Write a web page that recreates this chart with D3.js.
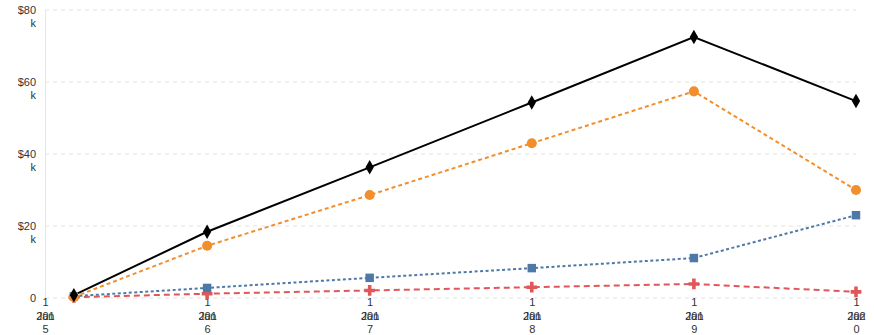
<!DOCTYPE html>
<html>
<head>
<meta charset="utf-8">
<script src="https://cdn.jsdelivr.net/npm/d3@7/dist/d3.min.js"></script>
<style>
  html, body { margin: 0; padding: 0; background: #fff; }
  svg { display: block; font-family: "Liberation Sans", Arial, sans-serif; }
</style>
</head>
<body>
<svg id="chart" width="874" height="335"></svg>
<script>
// ---- data ----
const dates = ["2015-03-07", "2016-01-01", "2017-01-01", "2018-01-01", "2019-01-01", "2020-01-01"];
const totalValues  = [800, 18400, 36300, 54300, 72500, 54700];
const orangeValues = [300, 14500, 28600, 43000, 57400, 30000];
const blueValues   = [500, 2800, 5600, 8300, 11100, 23000];
const redValues    = [200, 1200, 2100, 3000, 3900, 1700];
const xTickDates = ["2015-01-01", "2016-01-01", "2017-01-01", "2018-01-01", "2019-01-01", "2020-01-01"];
const xTickLabels = ["1 Jan 2015", "1 Jan 2016", "1 Jan 2017", "1 Jan 2018", "1 Jan 2019", "1 Jan 2020"];
const yTicks = [0, 20000, 40000, 60000, 80000];
const yTickLabels = ["0", "$20k", "$40k", "$60k", "$80k"];

const parse = d3.timeParse("%Y-%m-%d");
const svg = d3.select("#chart");
const W = 874, H = 335;
const m = { left: 45, right: 18, top: 10, bottom: 37 };

const x = d3.scaleTime()
  .domain([parse(xTickDates[0]), parse(xTickDates[xTickDates.length - 1])])
  .range([m.left, W - m.right]);
const y = d3.scaleLinear().domain([0, 80000]).range([H - m.bottom, m.top]);

// gridlines
svg.append("g").selectAll("line").data(yTicks).join("line")
  .attr("x1", m.left).attr("x2", W - m.right)
  .attr("y1", d => y(d)).attr("y2", d => y(d))
  .attr("stroke", "#e3e3e3").attr("stroke-width", 1)
  .attr("stroke-dasharray", "4,4");

// vertical axis line
svg.append("line")
  .attr("x1", m.left + 0.5).attr("x2", m.left + 0.5)
  .attr("y1", m.top).attr("y2", H - m.bottom)
  .attr("stroke", "#e6e6e6");

// y axis labels
const yAxis = d3.axisLeft(y).tickValues(yTicks).tickSize(0).tickPadding(8)
  .tickFormat((d, i) => yTickLabels[i]);
const gy = svg.append("g").attr("transform", `translate(${m.left - 1},0)`).call(yAxis);
gy.select(".domain").remove();
gy.selectAll("text").each(function(d, i) {
  const t = d3.select(this);
  const lab = yTickLabels[i];
  t.text(null).attr("fill", "#333").attr("font-size", 11).attr("font-family", "Liberation Sans, Arial, sans-serif");
  if (lab.endsWith("k")) {
    t.append("tspan").attr("x", -8).attr("dy", "0.32em").text(lab.slice(0, -1));
    t.append("tspan").attr("x", -8).attr("dy", "1.15em").text("k");
  } else {
    t.append("tspan").attr("x", -8).attr("dy", "0.32em").text(lab);
  }
}).attr("dy", null);

// x axis labels
const xAxis = d3.axisBottom(x).tickValues(xTickDates.map(parse)).tickSize(0).tickPadding(3)
  .tickFormat((d, i) => xTickLabels[i]);
const gx = svg.append("g").attr("transform", `translate(0,${H - m.bottom})`).call(xAxis);
gx.select(".domain").remove();
gx.selectAll("text").each(function(d, i) {
  const t = d3.select(this);
  const parts = xTickLabels[i].split(" ");
  const pieces = [[parts[0], 0], [parts[1], 1], [parts[2].slice(0, 3), 1], [parts[2].slice(3), 2]];
  t.text(null).attr("fill", "#333").attr("font-size", 11).attr("font-family", "Liberation Sans, Arial, sans-serif").attr("dy", null);
  pieces.forEach(([s, line]) => {
    t.append("tspan").attr("x", 0).attr("y", 0.5 + line * 13.5).attr("dy", "0.71em").text(s);
  });
});

// series
const series = [
  { vals: redValues,    color: "#e15759", dash: "6,4", sym: d3.symbolCross,   size: 64 },
  { vals: blueValues,   color: "#4e79a7", dash: "3,2.5", sym: d3.symbolSquare, size: 72 },
  { vals: orangeValues, color: "#f28e2b", dash: "4,3", sym: d3.symbolCircle,  size: 80 },
  { vals: totalValues,  color: "#000000", dash: null,  sym: d3.symbolDiamond, size: 60 }
];

const line = d3.line().x(d => x(d.date)).y(d => y(d.v));

series.forEach(s => {
  const pts = dates.map((dt, i) => ({ date: parse(dt), v: s.vals[i] }));
  svg.append("path").datum(pts)
    .attr("d", line).attr("fill", "none")
    .attr("stroke", s.color).attr("stroke-width", 2)
    .attr("stroke-dasharray", s.dash);
});
series.forEach(s => {
  const pts = dates.map((dt, i) => ({ date: parse(dt), v: s.vals[i] }));
  svg.append("g").selectAll("path").data(pts).join("path")
    .attr("transform", d => `translate(${x(d.date)},${y(d.v)})`)
    .attr("d", d3.symbol().type(s.sym).size(s.size))
    .attr("fill", s.color);
});
</script>
</body>
</html>
